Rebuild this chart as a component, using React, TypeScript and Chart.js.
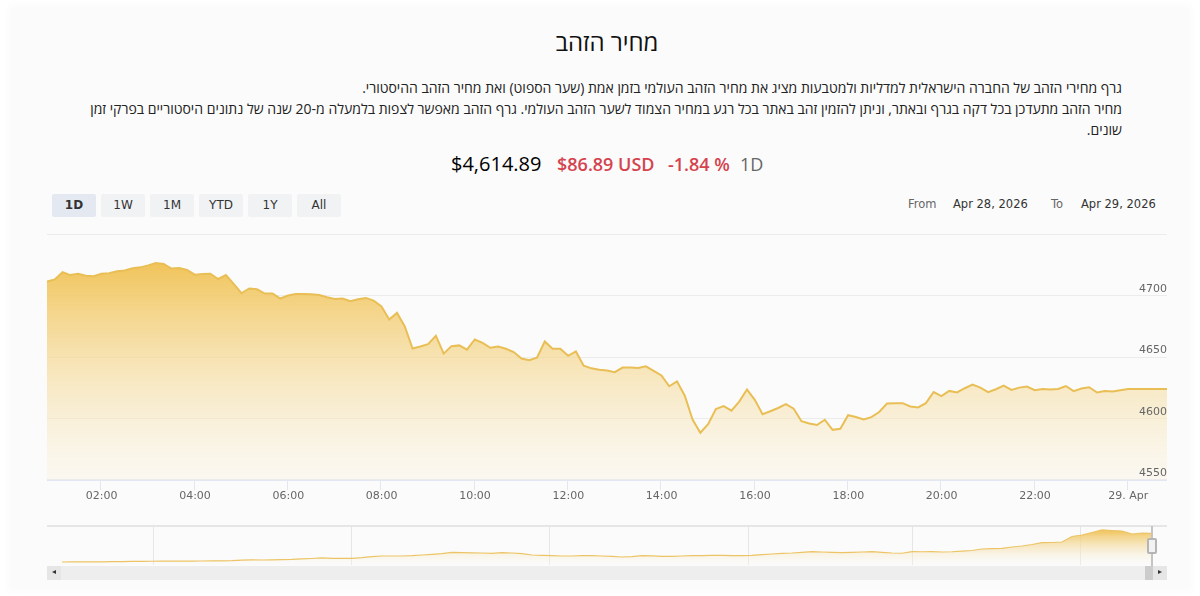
import { useEffect, useRef } from "react";
import { Chart, registerables } from "chart.js";

Chart.register(...registerables);

const title = "מחיר הזהב";
const descriptionLines = [
  "גרף מחירי הזהב של החברה הישראלית למדליות ולמטבעות מציג את מחיר הזהב העולמי בזמן אמת (שער הספוט) ואת מחיר הזהב ההיסטורי.",
  "מחיר הזהב מתעדכן בכל דקה בגרף ובאתר, וניתן להזמין זהב באתר בכל רגע במחיר הצמוד לשער הזהב העולמי. גרף הזהב מאפשר לצפות בלמעלה מ-20 שנה של נתונים היסטוריים בפרקי זמן שונים.",
];
const rangeButtons = ["1D", "1W", "1M", "YTD", "1Y", "All"];

// gold price, one reading every 10 minutes, first one at about 00:51
const startHour = 0.85;
const prices = [
  4711.7, 4713.5, 4719.4, 4717, 4718.1, 4716.5, 4716, 4718.1, 4718.6, 4720.2, 4720.7, 4722.5, 4723.3,
  4724.9, 4726.8, 4726, 4722.3, 4722.8, 4721.2, 4717.3, 4717.8, 4718.1, 4713.8, 4717, 4709.8, 4702.2,
  4706.1, 4705.4, 4701.9, 4701.9, 4697.9, 4700.3, 4701.6, 4701.6, 4701.3, 4700.8, 4698.9, 4697.6,
  4697.9, 4695.7, 4697.3, 4698.4, 4696.2, 4691.5, 4680.8, 4686.2, 4675.1, 4657.2, 4658.8, 4660.7,
  4667.6, 4653, 4659.1, 4659.7, 4656.2, 4664.5, 4661.8, 4657.8, 4658.8, 4657, 4654.3, 4649, 4647.7,
  4649.6, 4662.9, 4657, 4657, 4651.2, 4654.8, 4643.2, 4641, 4639.8, 4639.2, 4637.9, 4641.6, 4641.6,
  4641.3, 4642.6, 4639, 4635.2, 4626.4, 4630.4, 4618.7, 4599.3, 4588.5, 4595.4, 4607.9, 4610.2,
  4606.5, 4613.9, 4623.7, 4615.3, 4603.6, 4606, 4608.7, 4611.8, 4608.1, 4597.9, 4596.1, 4594.8,
  4599.1, 4590.9, 4591.7, 4602.8, 4601.4, 4599.3, 4601.2, 4605.4, 4612.3, 4612.6, 4612.6, 4609.9,
  4609.1, 4612.6, 4621.7, 4618.4, 4622.6, 4621.4, 4624.8, 4627.7, 4625.3, 4621.6, 4624, 4626.9,
  4623.4, 4625.3, 4626.1, 4623.2, 4624.2, 4623.7, 4624.2, 4626.6, 4622.4, 4624.5, 4625.6, 4621.3,
  4622.6, 4622.1, 4623.2, 4624.2, 4624.2, 4624.2, 4624.2, 4624.2, 4624.2,
];
const hourTicks = [2, 4, 6, 8, 10, 12, 14, 16, 18, 20, 22, 24];
const hourLabels = ["02:00", "04:00", "06:00", "08:00", "10:00", "12:00", "14:00", "16:00", "18:00", "20:00", "22:00", "29. Apr"];

// navigator: long history, evenly spaced samples (the axis is ordinal, so years are not even)
const historyPrices = [
  272, 280, 285, 300, 305, 320, 335, 350, 365, 385, 390, 395, 400, 410, 420, 430, 450, 480, 560, 582,
  570, 600, 630, 650, 730, 790, 880, 820, 800, 820, 907, 1054, 1158, 1158, 1158, 1200, 1305, 1403, 1497,
  1700, 1640, 1610, 1600, 1556, 1644, 1600, 1497, 1305, 1260, 1210, 1158, 1158, 1210, 1210, 1158, 1110,
  1010, 1060, 1200, 1180, 1110, 1110, 1158, 1210, 1210, 1260, 1260, 1210, 1210, 1260, 1350, 1450, 1550,
  1600, 1700, 1795, 1750, 1700, 1650, 1690, 1750, 1800, 1700, 1600, 1560, 1800, 1780, 1790, 1750, 1780,
  1880, 1969, 2190, 2235, 2290, 2485, 2630, 2850, 3120, 3150, 3220, 4030, 4255, 4620, 5000, 4920, 4845,
  4402, 4550, 4506,
];
const historyTickSamples = [9.1, 28.9, 48.7, 68.6, 85, 101.8];
const historyTickYears = ["2004", "2009", "2014", "2019", "2023", "2026"];

const uiFont = "'DejaVu Sans', sans-serif";
const textFont = "'Open Sans', 'Noto Sans', sans-serif";

const goldFill = (offset: number, top: string, bottom: string) => (ctx: any) => {
  const { chart } = ctx;
  if (!chart.chartArea) return undefined;
  const g = chart.ctx.createLinearGradient(0, chart.chartArea.top + offset, 0, chart.chartArea.bottom);
  g.addColorStop(0, top);
  g.addColorStop(1, bottom);
  return g;
};

const at = (left: number, top: number, extra: any = {}) => ({
  position: "absolute" as const,
  left,
  top,
  whiteSpace: "nowrap" as const,
  ...extra,
});

export default function App() {
  const mainRef = useRef<HTMLCanvasElement | null>(null);
  const navRef = useRef<HTMLCanvasElement | null>(null);

  useEffect(() => {
    document.body.style.margin = "0";
    if (!mainRef.current || !navRef.current) return;

    const main = new Chart(mainRef.current, {
      type: "line",
      data: {
        datasets: [
          {
            data: prices.map((p, i) => ({ x: startHour + i / 6, y: p })),
            borderColor: "#e9bf55",
            borderWidth: 2,
            pointRadius: 0,
            tension: 0,
            fill: "start",
            backgroundColor: goldFill(24, "#f0c255", "rgba(250,243,224,0.35)"),
          },
        ],
      },
      options: {
        animation: false,
        responsive: false,
        layout: { autoPadding: false, padding: { top: 1 } },
        plugins: { legend: { display: false }, tooltip: { enabled: false } },
        scales: {
          x: {
            type: "linear",
            min: startHour,
            max: startHour + 24,
            afterBuildTicks: (s: any) => {
              s.ticks = hourTicks.map((value) => ({ value }));
            },
            afterFit: (s: any) => {
              s.height = 28;
            },
            border: { color: "#e3e7f1", width: 2 },
            grid: { drawOnChartArea: false, color: "#e3e7f1", tickLength: 10 },
            ticks: {
              autoSkip: false,
              maxRotation: 0,
              padding: 0,
              labelOffset: 1,
              color: "#666666",
              font: { family: uiFont, size: 11 },
              callback: (v: any) => hourLabels[hourTicks.indexOf(v)],
            },
          },
          y: {
            position: "right",
            min: 4550,
            max: 4750,
            border: { display: false },
            grid: { color: "#ececec", drawTicks: false },
            ticks: {
              stepSize: 50,
              mirror: true,
              padding: 0,
              labelOffset: -7,
              z: 1,
              color: "#666666",
              font: { family: uiFont, size: 11 },
              callback: (v: any) => (v === 4750 ? "" : String(v)),
            },
          },
        },
      },
    });

    const nav = new Chart(navRef.current, {
      type: "line",
      data: {
        datasets: [
          {
            data: historyPrices.map((p, i) => ({ x: i, y: p })),
            borderColor: "#ecc465",
            borderWidth: 1.2,
            pointRadius: 0,
            tension: 0,
            fill: "start",
            backgroundColor: goldFill(3, "#efc051", "rgba(251,251,251,0.2)"),
          },
        ],
      },
      options: {
        animation: false,
        responsive: false,
        layout: { autoPadding: false, padding: 0 },
        plugins: { legend: { display: false }, tooltip: { enabled: false } },
        scales: {
          x: {
            type: "linear",
            min: -1.5,
            max: 110.5,
            afterBuildTicks: (s: any) => {
              s.ticks = historyTickSamples.map((value) => ({ value }));
            },
            afterFit: (s: any) => {
              s.height = 0;
            },
            border: { display: false },
            grid: { color: "#e6e6e6", drawTicks: false },
            ticks: {
              autoSkip: false,
              maxRotation: 0,
              mirror: true, // labels sit inside the plot, mirror turns off the clip to the axis box
              align: "start",
              labelOffset: 4,
              padding: -14,
              z: 1,
              color: "#999999",
              font: { family: uiFont, size: 11 },
              callback: (v: any) => historyTickYears[historyTickSamples.indexOf(v)],
            },
          },
          y: { display: false, min: -170, max: 5580 },
        },
      },
    });

    return () => {
      main.destroy();
      nav.destroy();
    };
  }, []);

  return (
    <div style={{ position: "absolute", left: 0, top: 0, width: 1200, height: 596, overflow: "hidden", background: "#ffffff" }}>
      <div style={{ position: "absolute", left: 12, top: 8, width: 1176, height: 580, background: "#fbfbfb", boxShadow: "0 0 8px 4px #fbfbfb" }} />

      <div style={at(0, 25, { width: 1214, textAlign: "center", font: `24px ${textFont}`, color: "#111", lineHeight: "34px" })} dir="rtl">
        {title}
      </div>
      <div dir="rtl" style={at(77, 78, { width: 1045, whiteSpace: "normal", font: `14px ${textFont}`, lineHeight: "20.8px", color: "#222", textAlign: "right" })}>
        {descriptionLines.map((line) => (
          <div key={line}>{line}</div>
        ))}
      </div>

      <span style={at(451, 150, { font: `20px ${textFont}`, color: "#000" })}>$4,614.89</span>
      <span style={at(557, 152, { font: `600 18px ${textFont}`, color: "#d5434f" })}>$86.89 USD</span>
      <span style={at(668, 152, { font: `600 18px ${textFont}`, color: "#d5434f" })}>-1.84 %</span>
      <span style={at(740, 152, { font: `18px ${textFont}`, color: "#666" })}>1D</span>

      {rangeButtons.map((label, i) => (
        <div
          key={label}
          style={at(52 + i * 49, 194, {
            width: 44,
            height: 23,
            textAlign: "center",
            borderRadius: 2,
            background: i === 0 ? "#e3e8f1" : "#f1f2f3",
            color: "#333",
            font: `${i === 0 ? "bold " : ""}12px ${uiFont}`,
            lineHeight: "22px",
          })}
        >
          {label}
        </div>
      ))}

      <span style={at(908, 197, { font: `11.5px ${uiFont}`, color: "#666" })}>From</span>
      <span style={at(953, 197, { font: `11.5px ${uiFont}`, color: "#333" })}>Apr 28, 2026</span>
      <span style={at(1051, 197, { font: `11.5px ${uiFont}`, color: "#666" })}>To</span>
      <span style={at(1081, 197, { font: `11.5px ${uiFont}`, color: "#333" })}>Apr 29, 2026</span>

      <canvas ref={mainRef} width={1120} height={280} style={{ position: "absolute", left: 47, top: 228, width: 1120, height: 280 }} />

      <canvas ref={navRef} width={1120} height={39} style={{ position: "absolute", left: 47, top: 526, width: 1120, height: 39 }} />
      <div style={at(47, 525, { width: 1120, height: 2, background: "#e6e6e6" })} />

      {/* scrollbar and navigator handle */}
      <div style={at(47, 565.5, { width: 1120, height: 14, background: "#eeeeee" })} />
      <div style={at(47, 565.5, { width: 14, height: 14, background: "#e6e6e6" })} />
      <div style={at(52, 570, { width: 0, height: 0, borderTop: "2.5px solid transparent", borderBottom: "2.5px solid transparent", borderRight: "4px solid #333" })} />
      <div style={at(1145, 565.5, { width: 8, height: 14, background: "#cccccc" })} />
      <div style={at(1153, 565.5, { width: 14, height: 14, background: "#e6e6e6" })} />
      <div style={at(1158, 570, { width: 0, height: 0, borderTop: "2.5px solid transparent", borderBottom: "2.5px solid transparent", borderLeft: "4px solid #333" })} />
      <div style={at(1151, 526, { width: 2, height: 40, background: "#c4c4c4" })} />
      <div style={at(1147, 538, { width: 6, height: 12, background: "#f2f2f2", border: "2px solid #b5b5b5", borderRadius: 2 })} />
    </div>
  );
}
